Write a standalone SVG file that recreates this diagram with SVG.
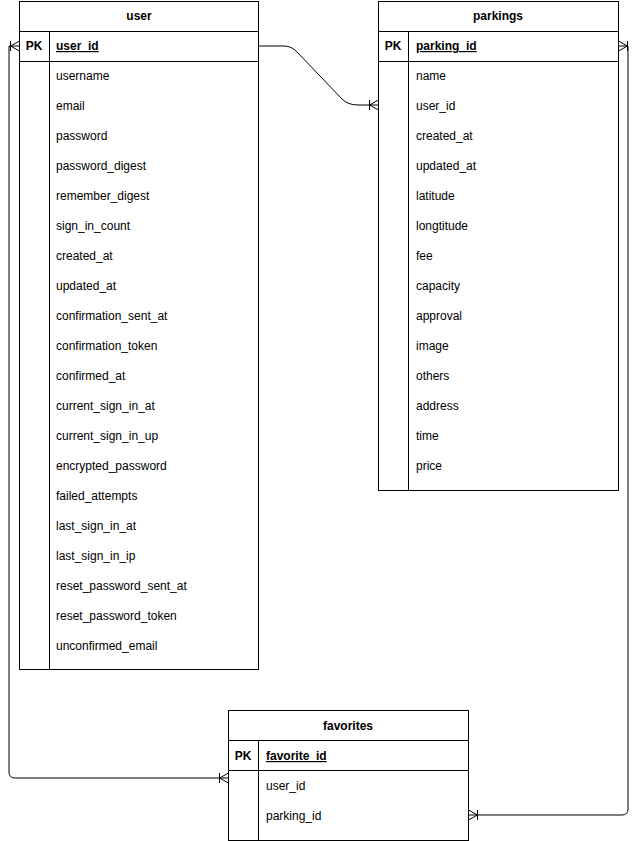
<svg xmlns="http://www.w3.org/2000/svg" width="638" height="841" viewBox="0 0 638 841">
<style>
  .box { fill: #ffffff; stroke: #000000; stroke-width: 1; }
  .ln { stroke: #000000; stroke-width: 1; fill: none; }
  text { font-family: "Liberation Sans", Arial, Helvetica, sans-serif; font-size: 12px; fill: #000000; }
  .hd { font-weight: bold; text-anchor: middle; }
  .pk { font-weight: bold; text-anchor: middle; }
  .key { font-weight: bold; text-decoration: underline; }
  .conn { stroke: #000000; stroke-width: 1; fill: none; marker-start: url(#many); marker-end: url(#many); }
</style>
<defs>
  <marker id="many" markerUnits="userSpaceOnUse" markerWidth="14" markerHeight="14" viewBox="-2 -7 14 14" refX="10" refY="0" orient="auto-start-reverse">
    <path d="M10,-5 L1,0 L10,5 M1,-5 L1,5" fill="none" stroke="#000000" stroke-width="1"/>
  </marker>
</defs>
<rect width="638" height="841" fill="#ffffff"/>

<g id="connectors">
  <path class="conn" d="M258.5,46 L284,46 Q292,46 298,53 L342,99 Q348,105 358,105 L378.5,105" style="marker-start:none"/>
  <path class="conn" d="M19.5,46 L9,46 L9,772 Q9,778 15,778 L228.5,778"/>
  <path class="conn" d="M618.5,46 L628,46 L628,809 Q628,815 622,815 L468.5,815"/>
</g>

<g id="user">
  <rect class="box" x="19.5" y="1.5" width="239" height="668"/>
  <line class="ln" x1="19.5" y1="31.5" x2="258.5" y2="31.5"/>
  <line class="ln" x1="19.5" y1="61.5" x2="258.5" y2="61.5"/>
  <line class="ln" x1="49.5" y1="31.5" x2="49.5" y2="669.5"/>
  <text class="hd" x="139" y="20">user</text>
  <text class="pk" x="34" y="50">PK</text>
  <text class="key" x="56" y="50">user_id</text>
  <text x="56" y="80">username</text>
  <text x="56" y="110">email</text>
  <text x="56" y="140">password</text>
  <text x="56" y="170">password_digest</text>
  <text x="56" y="200">remember_digest</text>
  <text x="56" y="230">sign_in_count</text>
  <text x="56" y="260">created_at</text>
  <text x="56" y="290">updated_at</text>
  <text x="56" y="320">confirmation_sent_at</text>
  <text x="56" y="350">confirmation_token</text>
  <text x="56" y="380">confirmed_at</text>
  <text x="56" y="410">current_sign_in_at</text>
  <text x="56" y="440">current_sign_in_up</text>
  <text x="56" y="470">encrypted_password</text>
  <text x="56" y="500">failed_attempts</text>
  <text x="56" y="530">last_sign_in_at</text>
  <text x="56" y="560">last_sign_in_ip</text>
  <text x="56" y="590">reset_password_sent_at</text>
  <text x="56" y="620">reset_password_token</text>
  <text x="56" y="650">unconfirmed_email</text>
</g>

<g id="parkings">
  <rect class="box" x="378.5" y="1.5" width="240" height="489"/>
  <line class="ln" x1="378.5" y1="31.5" x2="618.5" y2="31.5"/>
  <line class="ln" x1="378.5" y1="61.5" x2="618.5" y2="61.5"/>
  <line class="ln" x1="408.5" y1="31.5" x2="408.5" y2="490.5"/>
  <text class="hd" x="498" y="20">parkings</text>
  <text class="pk" x="393" y="50">PK</text>
  <text class="key" x="416" y="50">parking_id</text>
  <text x="416" y="80">name</text>
  <text x="416" y="110">user_id</text>
  <text x="416" y="140">created_at</text>
  <text x="416" y="170">updated_at</text>
  <text x="416" y="200">latitude</text>
  <text x="416" y="230">longtitude</text>
  <text x="416" y="260">fee</text>
  <text x="416" y="290">capacity</text>
  <text x="416" y="320">approval</text>
  <text x="416" y="350">image</text>
  <text x="416" y="380">others</text>
  <text x="416" y="410">address</text>
  <text x="416" y="440">time</text>
  <text x="416" y="470">price</text>
</g>

<g id="favorites">
  <rect class="box" x="228.5" y="710.5" width="240" height="130"/>
  <line class="ln" x1="228.5" y1="740.5" x2="468.5" y2="740.5"/>
  <line class="ln" x1="228.5" y1="770.5" x2="468.5" y2="770.5"/>
  <line class="ln" x1="258.5" y1="740.5" x2="258.5" y2="840.5"/>
  <text class="hd" x="348" y="730">favorites</text>
  <text class="pk" x="243" y="760">PK</text>
  <text class="key" x="266" y="760">favorite_id</text>
  <text x="266" y="790">user_id</text>
  <text x="266" y="820">parking_id</text>
</g>
</svg>
